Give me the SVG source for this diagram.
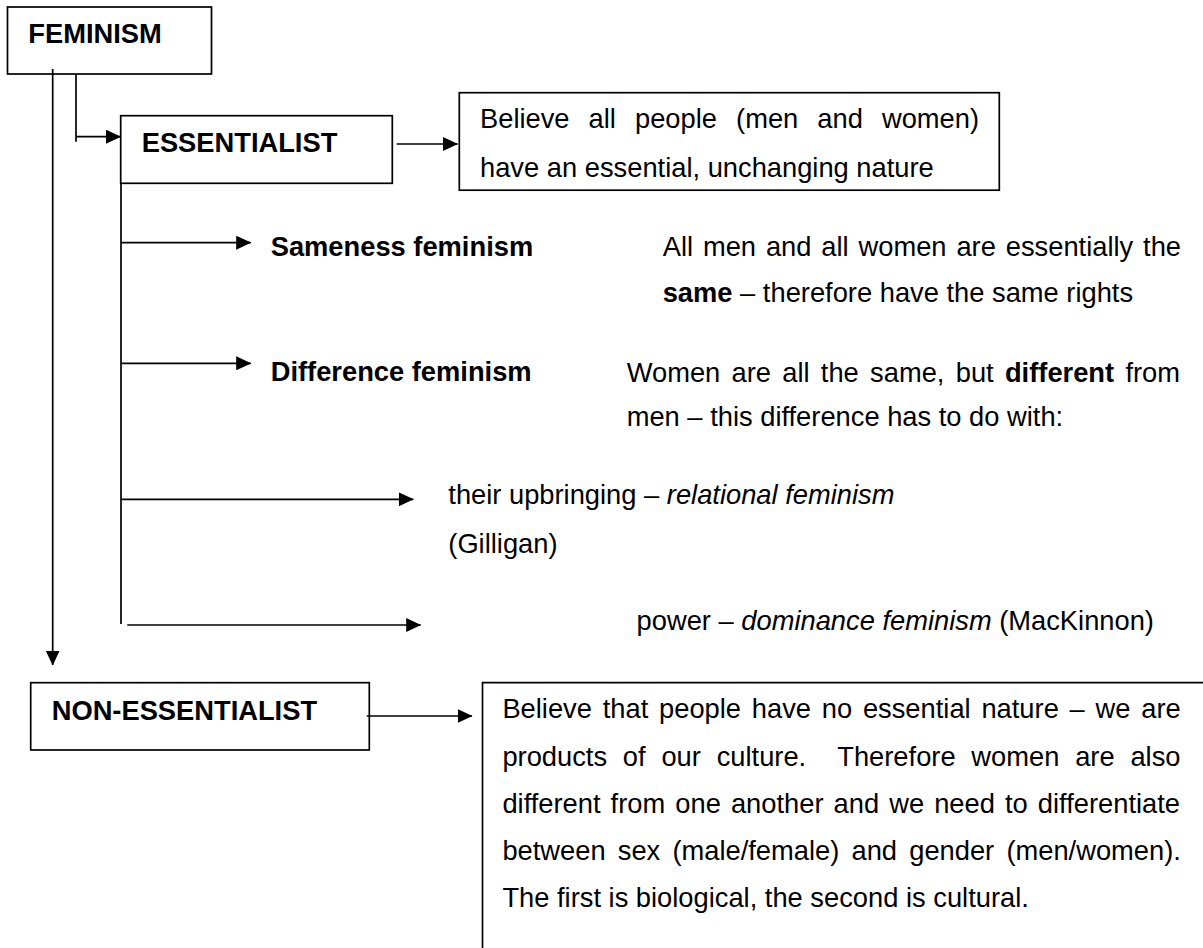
<svg xmlns="http://www.w3.org/2000/svg" width="1203" height="948" viewBox="0 0 1203 948">
<defs>
<style>
text{font-family:"Liberation Sans",Arial,sans-serif;font-size:27.3px;fill:#000;}
.b{font-weight:bold;}
.i{font-style:italic;}
.box{fill:none;stroke:#000;stroke-width:1.7;}
.ln{fill:none;stroke:#000;stroke-width:1.7;}
.arr{marker-end:url(#ah);}
</style>
<marker id="ah" markerUnits="userSpaceOnUse" markerWidth="15" markerHeight="14" refX="14.5" refY="7" orient="auto" viewBox="0 0 15 14">
<path d="M0,0 L15,7 L0,14 z" fill="#000"/>
</marker>
</defs>
<rect width="1203" height="948" fill="#fff"/>
<g id="connectors">
<path class="ln arr" d="M52.7,69 V665"/>
<path class="ln" d="M76,74 V141.7"/>
<path class="ln arr" d="M76,136.7 H120.5"/>
<path class="ln arr" d="M396.7,144 H457.5"/>
<path class="ln" d="M121,183 V624"/>
<path class="ln arr" d="M121,242.7 H250.7"/>
<path class="ln arr" d="M121,363.3 H250.7"/>
<path class="ln arr" d="M121,499.3 H413.3"/>
<path class="ln arr" d="M127.3,625 H420.7"/>
<path class="ln arr" d="M366.7,716 H472"/>
</g>
<g id="feminism">
<rect class="box" x="7.5" y="7" width="204" height="67"/>
<text class="b" x="28.3" y="43.3">FEMINISM</text>
</g>
<g id="essentialist">
<rect class="box" x="120.7" y="115.7" width="271.6" height="67.6"/>
<text class="b" x="141.7" y="151.7">ESSENTIALIST</text>
</g>
<g id="essentialist-desc">
<rect class="box" x="459.3" y="92.7" width="540" height="97.5"/>
<text x="480" y="128.3" style="word-spacing:11.5px">Believe all people (men and women)</text>
<text x="480" y="176.7">have an essential, unchanging nature</text>
</g>
<g id="sameness">
<text class="b" x="270.7" y="255.5">Sameness feminism</text>
</g>
<g id="sameness-desc">
<text x="662.7" y="256" style="word-spacing:2.3px">All men and all women are essentially the</text>
<text x="662.7" y="301.7"><tspan class="b">same</tspan> – therefore have the same rights</text>
</g>
<g id="difference">
<text class="b" x="270.7" y="381">Difference feminism</text>
</g>
<g id="difference-desc">
<text x="626.7" y="381.5" style="word-spacing:3.7px">Women are all the same, but <tspan class="b">different</tspan> from</text>
<text x="626.7" y="426">men – this difference has to do with:</text>
</g>
<g id="relational">
<text x="448.3" y="504">their upbringing – <tspan class="i">relational feminism</tspan></text>
<text x="448.3" y="553.3">(Gilligan)</text>
</g>
<g id="dominance">
<text x="636.6" y="630">power – <tspan class="i">dominance feminism</tspan> (MacKinnon)</text>
</g>
<g id="non-essentialist">
<rect class="box" x="30.7" y="682.7" width="338.6" height="67.3"/>
<text class="b" x="51.7" y="719.5">NON-ESSENTIALIST</text>
</g>
<g id="non-essentialist-desc">
<path class="box" d="M1203,682.7 H482.5 V948"/>
<text x="502.4" y="718.3" style="word-spacing:3.2px">Believe that people have no essential nature – we are</text>
<text x="502.4" y="766" xml:space="preserve" style="white-space:pre;word-spacing:8.2px">products of our culture.  Therefore women are also</text>
<text x="502.4" y="813.3" style="word-spacing:2.5px">different from one another and we need to differentiate</text>
<text x="502.4" y="860" style="word-spacing:4.6px">between sex (male/female) and gender (men/women).</text>
<text x="502.4" y="907.3">The first is biological, the second is cultural.</text>
</g>
</svg>
